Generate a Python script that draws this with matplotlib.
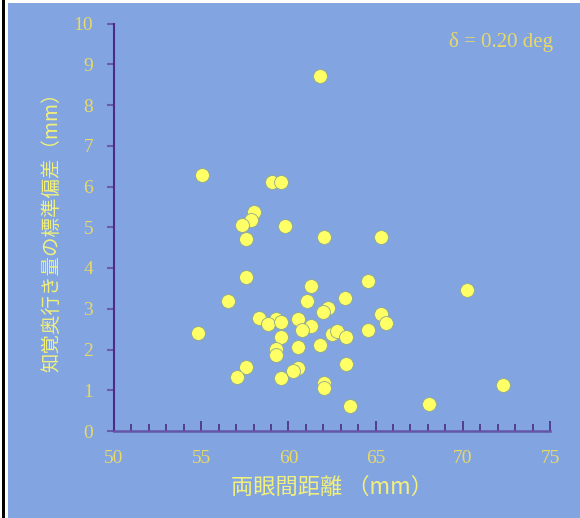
import matplotlib
matplotlib.use("Agg")
import matplotlib.pyplot as plt
from matplotlib.patches import Rectangle
from matplotlib.ticker import MultipleLocator

# interocular distance (mm) and std of perceived depth (mm)
ipd = [55.06, 59.06, 59.58, 58.05, 57.84, 57.32, 59.83, 57.55, 62.02, 65.31,
       57.55, 61.79, 61.31, 56.56, 61.04, 63.26, 64.54, 70.26, 62.26, 61.98,
       65.30, 65.57, 58.30, 59.27, 58.83, 59.56, 60.54, 61.31, 60.78, 54.84,
       62.48, 62.77, 63.30, 64.55, 59.56, 60.53, 61.79, 59.29, 59.29, 63.29,
       57.55, 57.07, 59.55, 60.53, 60.28, 62.02, 62.02, 63.51, 72.29, 68.06]
depth_sd = [6.28, 6.12, 6.12, 5.38, 5.18, 5.06, 5.03, 4.71, 4.76, 4.76,
            3.79, 8.72, 3.55, 3.19, 3.20, 3.27, 3.67, 3.45, 3.03, 2.91,
            2.87, 2.66, 2.78, 2.75, 2.62, 2.68, 2.75, 2.58, 2.47, 2.40,
            2.38, 2.45, 2.31, 2.48, 2.30, 2.07, 2.12, 2.01, 1.87, 1.64,
            1.58, 1.33, 1.30, 1.54, 1.47, 1.17, 1.05, 0.61, 1.13, 0.67]

bg = '#82A5E2'
axis_col = '#4B2B84'
tick_col = '#E8D868'
label_col = '#F2F07A'
jp = ['Noto Sans CJK JP', 'DejaVu Sans']

fig = plt.figure(figsize=(5.8, 5.18), dpi=100, facecolor=bg)
# white margin with black line on the left, white strip on top
fig.patches.append(Rectangle((0, 0), 8 / 580, 1, transform=fig.transFigure,
                             facecolor='white', edgecolor='none', zorder=0))
fig.patches.append(Rectangle((1.5 / 580, 0), 3 / 580, 1, transform=fig.transFigure,
                             facecolor='black', edgecolor='none', zorder=1))
fig.patches.append(Rectangle((0, 1 - 3 / 518), 1, 3 / 518, transform=fig.transFigure,
                             facecolor='white', edgecolor='none', zorder=0))

ax = fig.add_axes([114 / 580, 87 / 518, 436 / 580, 407.5 / 518])
ax.set_facecolor(bg)

ax.scatter(ipd, depth_sd, s=100, c='#FFFF66', edgecolors='#8FA890',
           linewidths=0.6, zorder=3, clip_on=False)

ax.set_xlim(50, 75)
ax.set_ylim(0, 10)
ax.xaxis.set_major_locator(MultipleLocator(5))
ax.xaxis.set_minor_locator(MultipleLocator(1))
ax.yaxis.set_major_locator(MultipleLocator(1))

for s in ['top', 'right']:
    ax.spines[s].set_visible(False)
ax.spines['left'].set_color(axis_col)
ax.spines['left'].set_linewidth(1.5)
ax.spines['bottom'].set_color('#6455A8')
ax.spines['bottom'].set_linewidth(1.8)

ax.tick_params(axis='x', which='major', direction='in', length=7, width=1.2,
               color=axis_col, pad=14, labelsize=14, labelcolor=tick_col)
ax.tick_params(axis='x', which='minor', direction='in', length=5, width=1.2,
               color=axis_col)
ax.tick_params(axis='y', which='major', direction='out', length=5, width=1.5,
               color='#6A5AB0', pad=10, labelsize=14, labelcolor=tick_col)
for lab in ax.get_xticklabels() + ax.get_yticklabels():
    lab.set_family('Liberation Serif')

ax.set_xlabel('両眼間距離 （mm）', family=jp, fontsize=16, color=label_col,
              labelpad=6)
ax.set_ylabel('知覚奥行き量の標準偏差（mm）', family=jp, fontsize=14,
              color=label_col, labelpad=8)

ax.text(1.007, 0.955, 'δ = 0.20 deg', transform=ax.transAxes, ha='right',
        va='center', fontsize=15, color=tick_col, family='Liberation Serif')

fig.savefig('out.png', dpi=100, facecolor=bg)
